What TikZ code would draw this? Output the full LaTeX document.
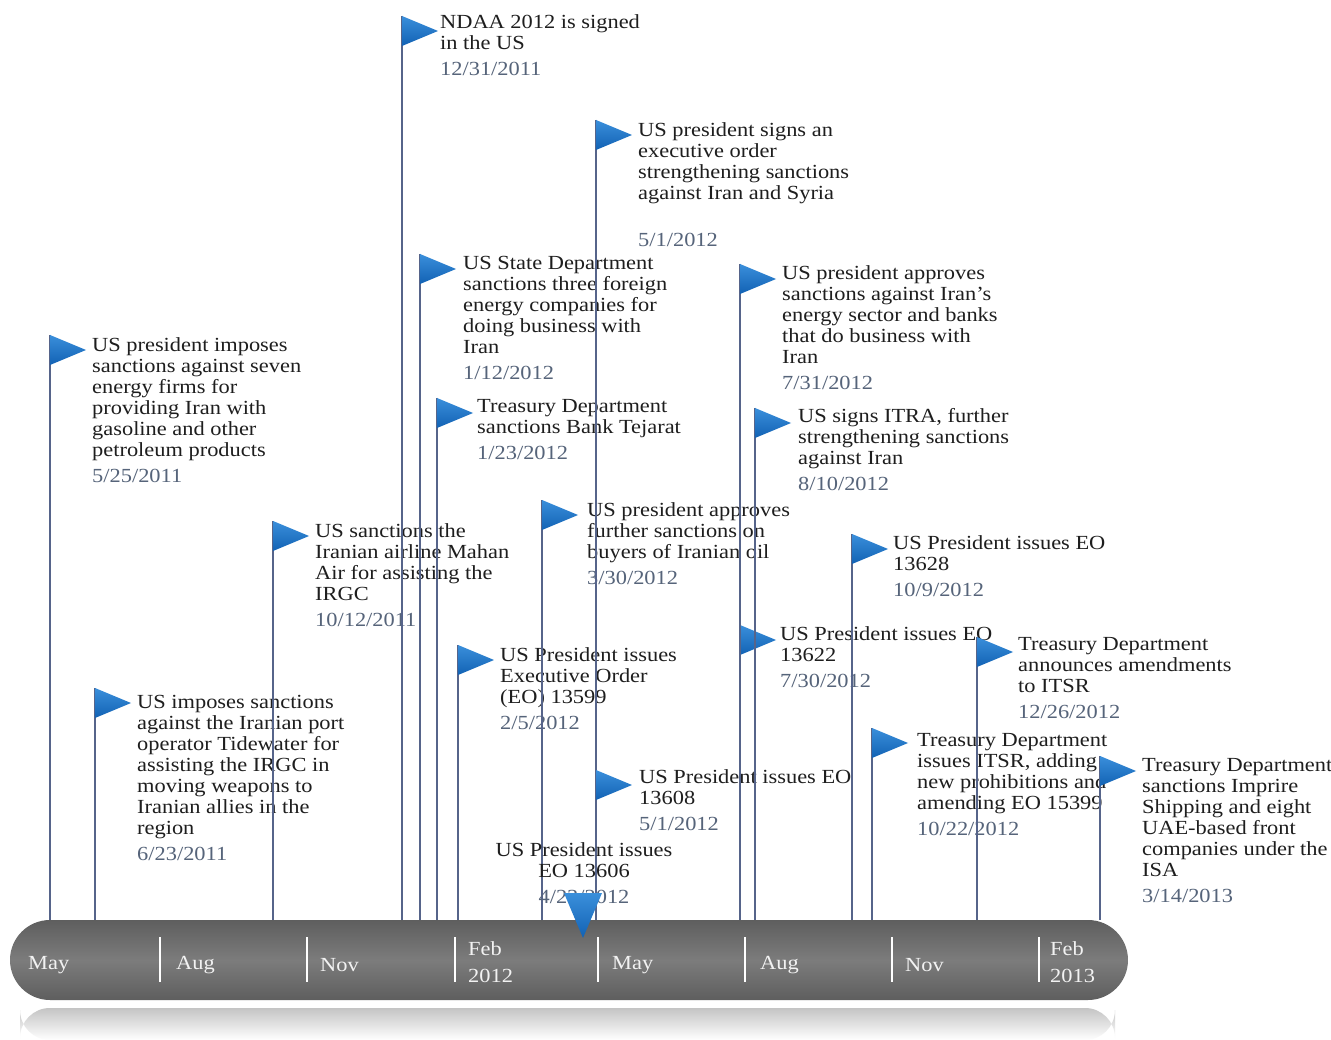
\documentclass[tikz,border=0pt]{standalone}
\usepackage{fontspec}
\setmainfont{Liberation Serif}[FakeStretch=1.12]
\usetikzlibrary{calc}
\definecolor{txtcol}{HTML}{1E1E1E}
\definecolor{datecol}{HTML}{56647A}
\definecolor{polecol}{HTML}{56648A}
\definecolor{flagA}{HTML}{3A8FDB}
\definecolor{flagB}{HTML}{1262B4}
\definecolor{barA}{HTML}{5E5E5E}
\definecolor{barB}{HTML}{7C7C7C}
\definecolor{monthcol}{HTML}{F2F2F2}
\definecolor{reflA}{HTML}{C4C4C4}
\tikzset{
  pole/.style={draw=polecol, line width=2.2pt},
  flagshape/.style={top color=flagA, bottom color=flagB, draw=none},
  evtext/.style={anchor=north west, align=left, inner sep=0pt, text=txtcol,
    font=\fontsize{20}{21}\selectfont},
  monthlbl/.style={text=monthcol, inner sep=0pt, align=left,
    font=\fontsize{20}{27}\selectfont},
  tickline/.style={draw=white, line width=1.6pt},
}
% name, pole x, flag top, text x, text top, gap before date, body, date
\newcommand{\tlevent}[8]{%
  \coordinate (#1-top) at (#2,#3);
  \draw[pole] (#1-top) -- (#1-top |- bar.north);
  \shade[flagshape] (#1-top) -- ++(36,15) -- ++(-36,15) -- cycle;
  \node[evtext] (#1) at (#4,#5) {#7\\[#6]{\color{datecol}#8}};
}
\begin{document}
\begin{tikzpicture}[x=1pt,y=-1pt]
\useasboundingbox[fill=white] (0,0) rectangle (1331,1040);
% reflection
\shade[top color=reflA, bottom color=white, rounded corners=30pt]
  (20,1040) -- (20,1008) -- (1115,1008) -- (1115,1040) -- cycle;
% bar
\node[draw=none, rounded corners=40pt, minimum width=1118pt, minimum height=80pt,
  inner sep=0pt, top color=barA, bottom color=barA, middle color=barB] (bar) at (569,960) {};

\tlevent{e1}{50}{335}{92}{337}{5pt}{US president imposes\\sanctions against seven\\energy firms for\\providing Iran with\\gasoline and other\\petroleum products}{5/25/2011}
\tlevent{e2}{95}{688}{137}{695}{5pt}{US imposes sanctions\\against the Iranian port\\operator Tidewater for\\assisting the IRGC in\\moving weapons to\\Iranian allies in the\\region}{6/23/2011}
\tlevent{e3}{273}{521}{315}{523}{5pt}{US sanctions the\\Iranian airline Mahan\\Air for assisting the\\IRGC}{10/12/2011}
\tlevent{e4}{402}{16}{440}{14}{5pt}{NDAA 2012 is signed\\in the US}{12/31/2011}
\tlevent{e5}{420}{254}{463}{256}{5pt}{US State Department\\sanctions three foreign\\energy companies for\\doing business with\\Iran}{1/12/2012}
\tlevent{e6}{437}{398}{477}{399}{5pt}{Treasury Department\\sanctions Bank Tejarat}{1/23/2012}
\tlevent{e7}{458}{645}{500}{647}{5pt}{US President issues\\Executive Order\\(EO) 13599}{2/5/2012}
\tlevent{e8}{542}{500}{587}{502}{5pt}{US president approves\\further sanctions on\\buyers of Iranian oil}{3/30/2012}
\tlevent{e10}{596}{120}{638}{122}{26pt}{US president signs an\\executive order\\strengthening sanctions\\against Iran and Syria}{5/1/2012}
\tlevent{e11}{596}{770}{639}{769}{5pt}{US President issues EO\\13608}{5/1/2012}
\tlevent{e12}{740}{625}{780}{626}{5pt}{US President issues EO\\13622}{7/30/2012}
\tlevent{e13}{740}{264}{782}{265}{5pt}{US president approves\\sanctions against Iran's\\energy sector and banks\\that do business with\\Iran}{7/31/2012}
\tlevent{e14}{755}{408}{798}{408}{5pt}{US signs ITRA, further\\strengthening sanctions\\against Iran}{8/10/2012}
\tlevent{e15}{852}{534}{893}{535}{5pt}{US President issues EO\\13628}{10/9/2012}
\tlevent{e16}{872}{728}{917}{733}{5pt}{Treasury Department\\issues ITSR, adding\\new prohibitions and\\amending EO 15399}{10/22/2012}
\tlevent{e17}{977}{637}{1018}{637}{5pt}{Treasury Department\\announces amendments\\to ITSR}{12/26/2012}
\tlevent{e18}{1100}{756}{1142}{758}{5pt}{Treasury Department\\sanctions Imprire\\Shipping and eight\\UAE-based front\\companies under the\\ISA}{3/14/2013}

% centred event with downward flag
\node[evtext, anchor=north, align=center] (e9) at (584,842)
  {US President issues\\EO 13606\\[5pt]{\color{datecol}4/23/2012}};
\coordinate (e9-flag) at (583,893);
\shade[flagshape] (e9-flag) ++(-19,0) -- ++(38,0) -- ++(-19,45) -- cycle;

% ticks and month labels
\foreach \tx in {160,307,455,598,745,892,1039}
  \draw[tickline] (\tx,937) -- (\tx,982);
\node[monthlbl, anchor=west] (m1) at (28,965) {May};
\node[monthlbl, anchor=west] (m2) at (176,965) {Aug};
\node[monthlbl, anchor=west] (m3) at (320,965) {Nov};
\node[monthlbl, anchor=west] (m4) at (468,962) {Feb\\2012};
\node[monthlbl, anchor=west] (m5) at (612,965) {May};
\node[monthlbl, anchor=west] (m6) at (760,965) {Aug};
\node[monthlbl, anchor=west] (m7) at (905,965) {Nov};
\node[monthlbl, anchor=west] (m8) at (1050,962) {Feb\\2013};
\end{tikzpicture}
\end{document}
